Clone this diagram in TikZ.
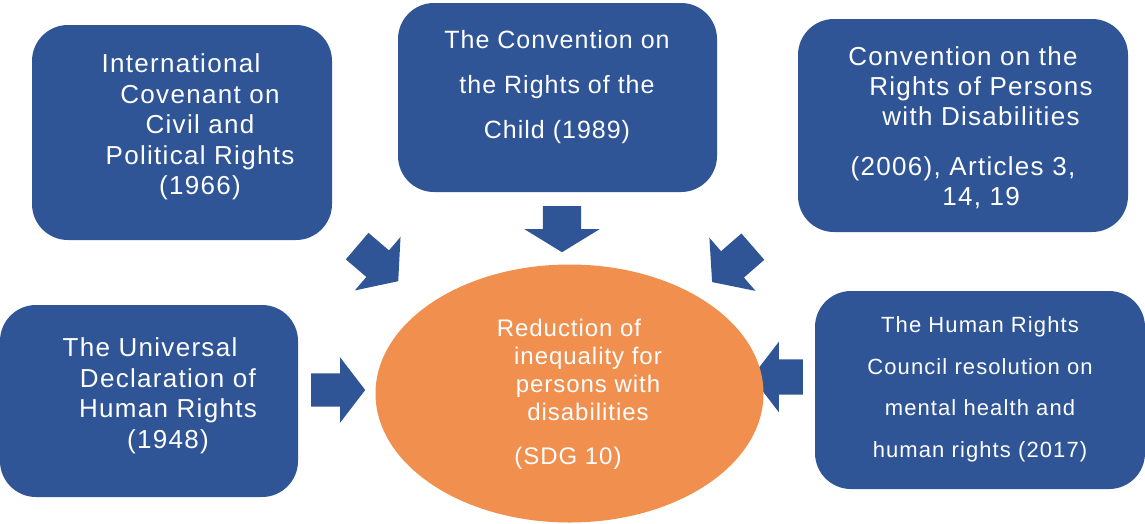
\documentclass[tikz,border=0pt]{standalone}
\usepackage{fontspec}
\setmainfont{Liberation Sans}
\usetikzlibrary{shapes.geometric,shapes.arrows}
\definecolor{treatyblue}{RGB}{47,85,151}
\definecolor{goalorange}{RGB}{240,143,78}

\begin{document}
\begin{tikzpicture}[x=1pt, y=-1pt,
  treaty/.style={rectangle, rounded corners=36pt, fill=treatyblue, inner sep=0pt},
  goal/.style={ellipse, fill=goalorange, inner sep=0pt},
  txt/.style={text=white, align=center, inner sep=0pt},
  txtbig/.style={txt, font=\fontsize{26}{30.5}\selectfont\addfontfeature{LetterSpace=5}},
  bigarrow/.style={single arrow, fill=treatyblue, inner xsep=0pt,
                   single arrow tip angle=105, anchor=tail}
]
  \useasboundingbox (0,0) rectangle (1145,523);

  % treaties
  \node[treaty, minimum width=300, minimum height=215] (iccpr) at (182,132.5) {};
  \node[treaty, minimum width=319, minimum height=189] (crc) at (557.5,97.5) {};
  \node[treaty, minimum width=330, minimum height=213] (crpd) at (963,125.5) {};
  \node[treaty, minimum width=298, minimum height=192] (udhr) at (149,401) {};
  \node[treaty, minimum width=330, minimum height=198] (hrc) at (980,390) {};

  % arrows towards the goal
  \node[bigarrow, rotate=-40.5, minimum height=54, inner ysep=17.25,
        single arrow head extend=17.75] (iccprarrow) at (357,246) {};
  \node[bigarrow, rotate=-90, minimum height=46, inner ysep=19,
        single arrow head extend=18.5, single arrow tip angle=117] (crcarrow) at (562,206) {};
  \node[bigarrow, rotate=-139, minimum height=54, inner ysep=17.25,
        single arrow head extend=17.75] (crpdarrow) at (753,246.5) {};
  \node[bigarrow, minimum height=54, inner ysep=16.5,
        single arrow head extend=16] (udhrarrow) at (311,390) {};
  \node[bigarrow, rotate=180, minimum height=51, inner ysep=17.5,
        single arrow head extend=17.5] (hrcarrow) at (803,377) {};

  % goal
  \node[goal, minimum width=388, minimum height=258] (sdg) at (569.5,393.5) {};

  % texts
  \node[txtbig] (iccprtext) at (200,127)
    {\mbox{International\hspace{38pt}}\\Covenant on\\Civil and\\Political Rights\\(1966)};
  \node[txt, font=\fontsize{25}{45}\selectfont\addfontfeature{LetterSpace=4}] (crctext) at (557,87.5)
    {The Convention on\\the Rights of the\\Child (1989)};
  \node[txtbig, font=\fontsize{26}{30}\selectfont\addfontfeature{LetterSpace=5}] (crpdtext) at (981,127.5)
    {\mbox{Convention on the\hspace{36pt}}\\Rights of Persons\\with Disabilities\\[20pt]\mbox{(2006), Articles 3,\hspace{36pt}}\\14, 19};
  \node[txtbig] (udhrtext) at (168,396)
    {\mbox{The Universal\hspace{36pt}}\\Declaration of\\Human Rights\\(1948)};
  \node[txt, font=\fontsize{22}{41.5}\selectfont\addfontfeature{LetterSpace=5}] (hrctext) at (980,389.5)
    {The Human Rights\\Council resolution on\\mental health and\\human rights (2017)};
  \node[txt, font=\fontsize{24}{28}\selectfont\addfontfeature{LetterSpace=4}] (sdgtext) at (588,394)
    {\mbox{Reduction of\hspace{38pt}}\\inequality for\\persons with\\disabilities\\[16pt]\mbox{(SDG 10)\hspace{40pt}}};
\end{tikzpicture}
\end{document}
